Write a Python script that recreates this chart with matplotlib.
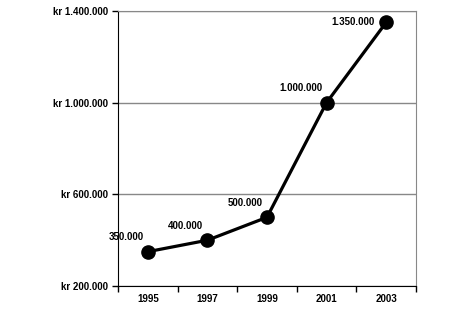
import matplotlib.pyplot as plt
from matplotlib.ticker import FixedLocator, FuncFormatter

years = ['1995', '1997', '1999', '2001', '2003']
values = [350000, 400000, 500000, 1000000, 1350000]
value_labels = ['350.000', '400.000', '500.000', '1.000.000', '1.350.000']
y_ticks = [200000, 600000, 1000000, 1400000]

plt.rcParams['font.family'] = ['Liberation Sans', 'DejaVu Sans']

fig = plt.figure(figsize=(4.7, 3.13), dpi=100)
ax = fig.add_axes([0.251, 0.086, 0.634, 0.879])

x = list(range(len(years)))
ax.plot(x, values, color='black', linewidth=2.3, marker='o', markersize=9.5, zorder=3)

# data labels up-left of each point (last one sits beside the point)
for i, (v, lab) in enumerate(zip(values, value_labels)):
    last = i == len(values) - 1
    ax.annotate(lab, (i, v), xytext=(-8 if last else -3, 0 if last else 10.5),
                textcoords='offset points', ha='right', va='center',
                fontsize=7, fontweight='bold')

ax.set_xlim(-0.5, len(years) - 0.5)
ax.set_ylim(200000, 1400000)

ax.yaxis.set_major_locator(FixedLocator(y_ticks))
ax.yaxis.set_major_formatter(FuncFormatter(lambda v, p: 'kr ' + f'{int(v):,}'.replace(',', '.')))
ax.grid(axis='y', color='#888888', linewidth=1)

# category axis: ticks on boundaries, labels in the middle
ax.xaxis.set_major_locator(FixedLocator([i - 0.5 for i in range(len(years) + 1)]))
ax.xaxis.set_major_formatter(FuncFormatter(lambda v, p: ''))
ax.xaxis.set_minor_locator(FixedLocator(x))
ax.set_xticklabels(years, minor=True)
ax.tick_params(axis='x', which='minor', length=0, pad=6, labelsize=7)
ax.tick_params(axis='x', which='major', length=4, width=1, direction='out')
ax.tick_params(axis='y', length=4, width=1, direction='out', labelsize=7, pad=3)
for t in ax.get_xticklabels(minor=True) + ax.get_yticklabels():
    t.set_fontweight('bold')

ax.spines['top'].set_color('#888888')
ax.spines['right'].set_color('#888888')
ax.spines['left'].set_color('black')
ax.spines['bottom'].set_color('black')

fig.savefig('out.png', dpi=100)
